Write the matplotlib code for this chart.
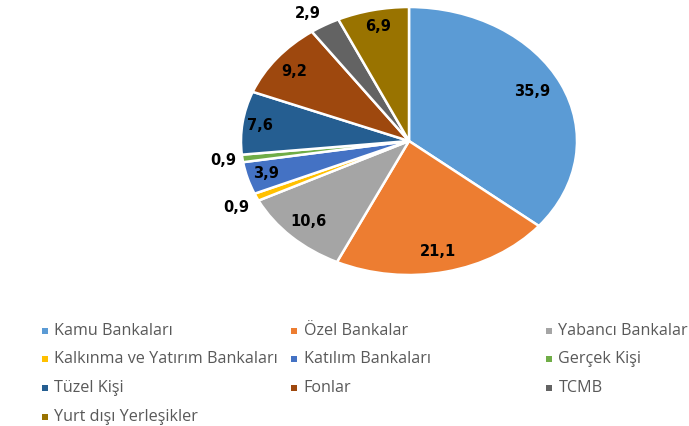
import numpy as np
import matplotlib
matplotlib.use("Agg")
from matplotlib import pyplot as plt
from matplotlib.patches import Rectangle

categories = ["Kamu Bankaları", "Özel Bankalar", "Yabancı Bankalar",
              "Kalkınma ve Yatırım Bankaları", "Katılım Bankaları", "Gerçek Kişi",
              "Tüzel Kişi", "Fonlar", "TCMB", "Yurt dışı Yerleşikler"]
values = [35.9, 21.1, 10.6, 0.9, 3.9, 0.9, 7.6, 9.2, 2.9, 6.9]
colors = ["#5B9BD5", "#ED7D31", "#A5A5A5", "#FFC000", "#4472C4",
          "#70AD47", "#255E91", "#9E480E", "#636363", "#997300"]

# label positions (unit-radius coords of the pie)
label_xy = [(0.732, 0.366), (0.173, -0.828), (-0.601, -0.604), (-1.030, -0.500),
            (-0.851, -0.239), (-1.107, -0.142), (-0.887, 0.119), (-0.685, 0.522),
            (-0.601, 0.955), (-0.185, 0.851)]

W, H = 689, 426
fig = plt.figure(figsize=(W / 100, H / 100), dpi=100)

# pie is an ellipse in the original, so aspect is left free
ax = fig.add_axes([241 / W, 1 - 275 / H, 336 / W, 268 / H])
wedges, _ = ax.pie(values, colors=colors, startangle=90, counterclock=False,
                   wedgeprops=dict(edgecolor="white", linewidth=1.8))
ax.set_aspect("auto")
ax.set_xlim(-1, 1)
ax.set_ylim(-1, 1)
ax.axis("off")

for v, (x, y) in zip(values, label_xy):
    ax.text(x, y, f"{v:.1f}".replace(".", ","), ha="center", va="center",
            fontsize=10.5, fontweight="bold", color="black", family="DejaVu Sans")

# legend, 3 columns like the excel one
col_x = [44.5, 293.5, 548.5]
row_y = [331, 359, 388, 417]
for i, (name, c) in enumerate(zip(categories, colors)):
    cx = col_x[i % 3]
    cy = row_y[i // 3]
    fig.patches.append(Rectangle(((cx - 3) / W, 1 - (cy + 3) / H), 6 / W, 6 / H,
                                 transform=fig.transFigure, facecolor=c,
                                 edgecolor="none"))
    fig.text((cx + 10) / W, 1 - cy / H, name, ha="left", va="center",
             fontsize=11.6, color="#595959", family="Open Sans")

fig.savefig("out.png", dpi=100)
